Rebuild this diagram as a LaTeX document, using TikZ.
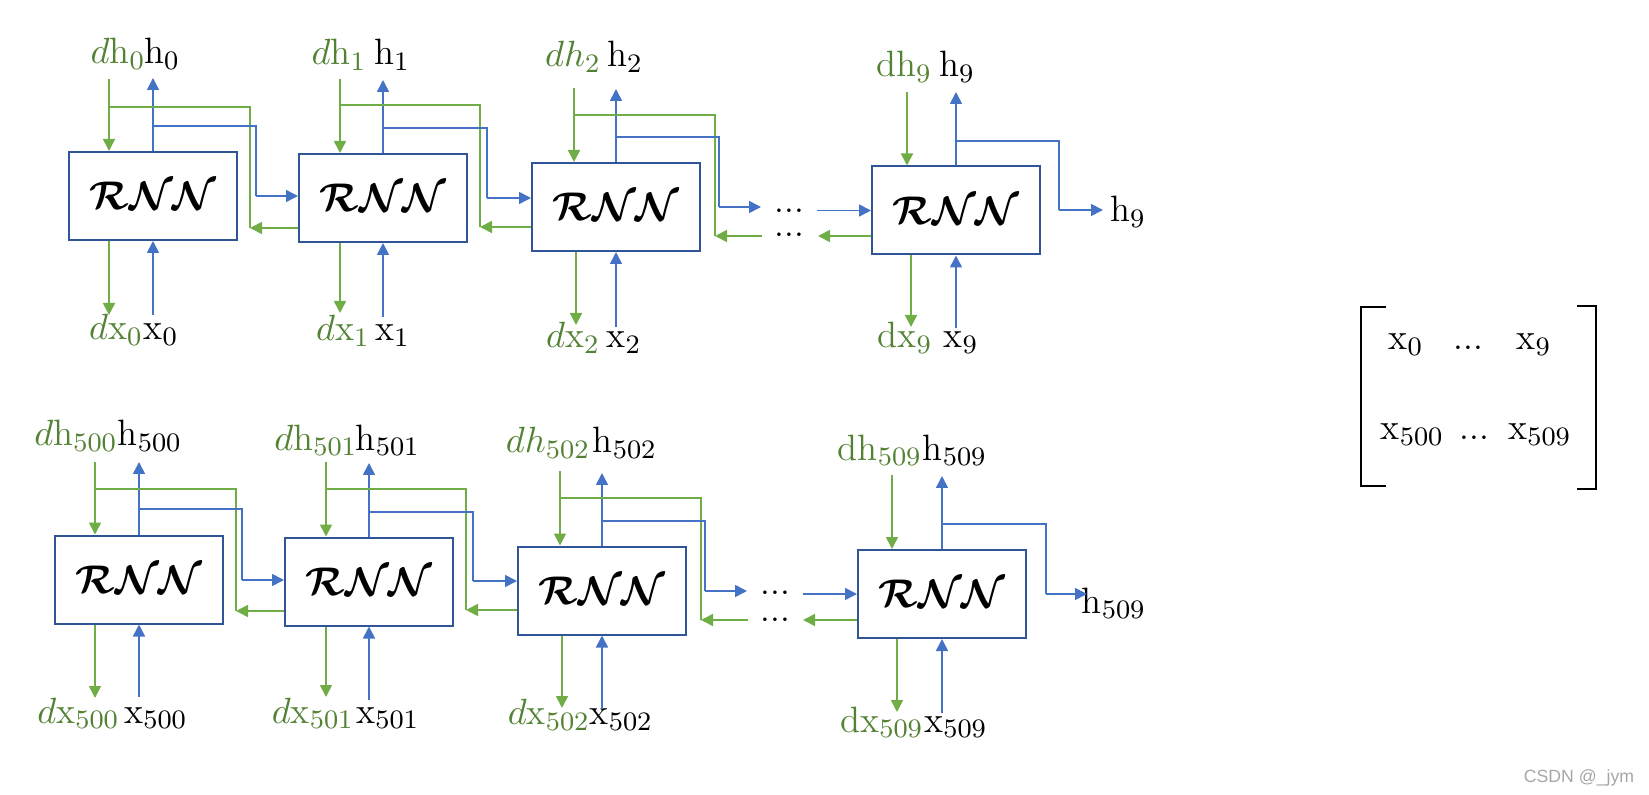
\documentclass[tikz,border=0pt]{standalone}
\usepackage{fontspec}
\usepackage{bm}
\usetikzlibrary{arrows.meta}
\newfontfamily\wmfont{Liberation Sans}
\definecolor{cgreen}{HTML}{70AD47}
\definecolor{cblue}{HTML}{4472C4}
\definecolor{cbox}{HTML}{2F5597}
\definecolor{tgreen}{HTML}{548235}
\definecolor{wmgray}{HTML}{A6A6A6}
\newcommand{\rnnlabel}{$\bm{\mathcal{RNN}}$}
\newcommand{\tdots}{.\kern0.2pt.\kern0.2pt.}
\begin{document}
\begin{tikzpicture}[x=0.3pt,y=-0.3pt,
  rnn/.style={draw=cbox,line width=0.6pt,fill=white,minimum width=50.4pt,minimum height=26.4pt,inner sep=0pt,font=\fontsize{12.2}{14}\selectfont},
  gl/.style={cgreen,line width=0.5pt},
  bl/.style={cblue,line width=0.5pt},
  tip/.style={-{Triangle[length=3.6pt,width=3.6pt]}},
  glab/.style={text=tgreen,anchor=base,inner sep=0pt,font=\fontsize{11}{13}\selectfont},
  blab/.style={text=black,anchor=base,inner sep=0pt,font=\fontsize{11}{13}\selectfont},
  dotsn/.style={text=black,anchor=base,inner sep=0pt,font=\fontsize{10}{12}\selectfont},
  brk/.style={black,line width=0.6pt}
]
\useasboundingbox (0,0) rectangle (1649,795);

% ---------------- boxes
\node[rnn] (b1) at (153,196) {\rnnlabel};
\node[rnn] (b2) at (383,198) {\rnnlabel};
\node[rnn] (b3) at (616,207) {\rnnlabel};
\node[rnn] (b4) at (956,210.5) {\rnnlabel};
\node[rnn] (b5) at (139,579.5) {\rnnlabel};
\node[rnn] (b6) at (369,581.5) {\rnnlabel};
\node[rnn] (b7) at (602,590.5) {\rnnlabel};
\node[rnn] (b8) at (942,594) {\rnnlabel};

% ---------------- labels row 1
\node[glab] (ldh0) at (118,64) {$d\mathrm{h}_{0}$};
\node[blab] (lh0) at (162,64) {$\mathrm{h}_{0}$};
\node[glab] (ldh1) at (339,65) {$d\mathrm{h}_{1}$};
\node[blab] (lh1) at (392,65) {$\mathrm{h}_{1}$};
\node[glab] (ldh2) at (573,67) {$dh_{2}$};
\node[blab] (lh2) at (625,67) {$\mathrm{h}_{2}$};
\node[glab] (ldh9) at (904,77) {$\mathrm{dh}_{9}$};
\node[blab] (lh9) at (957,77) {$\mathrm{h}_{9}$};
\node[glab] (ldx0) at (116,340) {$d\mathrm{x}_{0}$};
\node[blab] (lx0) at (161,340) {$\mathrm{x}_{0}$};
\node[glab] (ldx1) at (343,341) {$d\mathrm{x}_{1}$};
\node[blab] (lx1) at (392.5,341) {$\mathrm{x}_{1}$};
\node[glab] (ldx2) at (573,348) {$d\mathrm{x}_{2}$};
\node[blab] (lx2) at (624,348) {$\mathrm{x}_{2}$};
\node[glab] (ldx9) at (905,348) {$\mathrm{dx}_{9}$};
\node[blab] (lx9) at (961,348) {$\mathrm{x}_{9}$};
\node[blab] (lh9r) at (1128,222) {$\mathrm{h}_{9}$};

% ---------------- labels row 2
\node[glab] (ldh500) at (76,446) {$d\mathrm{h}_{500}$};
\node[blab] (lh500) at (150,446) {$\mathrm{h}_{500}$};
\node[glab] (ldh501) at (316,450) {$d\mathrm{h}_{501}$};
\node[blab] (lh501) at (388,450) {$\mathrm{h}_{501}$};
\node[glab] (ldh502) at (548,453) {$dh_{502}$};
\node[blab] (lh502) at (625,453) {$\mathrm{h}_{502}$};
\node[glab] (ldh509) at (880,460) {$\mathrm{dh}_{509}$};
\node[blab] (lh509) at (955,460) {$\mathrm{h}_{509}$};
\node[glab] (ldx500) at (78.5,723) {$d\mathrm{x}_{500}$};
\node[blab] (lx500) at (156,723) {$\mathrm{x}_{500}$};
\node[glab] (ldx501) at (313,723) {$d\mathrm{x}_{501}$};
\node[blab] (lx501) at (388,723) {$\mathrm{x}_{501}$};
\node[glab] (ldx502) at (549,725) {$d\mathrm{x}_{502}$};
\node[blab] (lx502) at (621.5,725) {$\mathrm{x}_{502}$};
\node[glab] (ldx509) at (882,732) {$\mathrm{dx}_{509}$};
\node[blab] (lx509) at (956,732) {$\mathrm{x}_{509}$};
\node[blab] (lh509r) at (1114,613) {$\mathrm{h}_{509}$};

% ---------------- dots
\node[dotsn] (dt1) at (789,212.5) {\tdots};
\node[dotsn] (dt2) at (789,237) {\tdots};
\node[dotsn] (dt3) at (775,594.5) {\tdots};
\node[dotsn] (dt4) at (775,621.5) {\tdots};

% ---------------- vertical in/out arrows, row 1
\coordinate (g1t) at (109,79);  \coordinate (h1t) at (153,78);
\coordinate (g1b) at (109,315); \coordinate (x1b) at (153,315);
\coordinate (g2t) at (340,79);  \coordinate (h2t) at (383,80);
\coordinate (g2b) at (340,313); \coordinate (x2b) at (383,317);
\coordinate (g3t) at (574,88);  \coordinate (h3t) at (616,89);
\coordinate (g3b) at (576,325); \coordinate (x3b) at (616,327);
\coordinate (g4t) at (907,92);  \coordinate (h4t) at (956,92);
\coordinate (g4b) at (911,327); \coordinate (x4b) at (956,328);
% row 2
\coordinate (g5t) at (95,462);  \coordinate (h5t) at (139,462);
\coordinate (g5b) at (95,698);  \coordinate (x5b) at (139,697);
\coordinate (g6t) at (326,462); \coordinate (h6t) at (369,463);
\coordinate (g6b) at (326,697); \coordinate (x6b) at (369,700);
\coordinate (g7t) at (560,471); \coordinate (h7t) at (602,473);
\coordinate (g7b) at (562,708); \coordinate (x7b) at (602,709);
\coordinate (g8t) at (892,475); \coordinate (h8t) at (942,476);
\coordinate (g8b) at (897,712); \coordinate (x8b) at (942,713);

\foreach \i in {1,...,8}{
  \draw[gl,tip] (g\i t) -- (g\i t |- b\i.north);
  \draw[bl,tip] (h\i t |- b\i.north) -- (h\i t);
  \draw[gl,tip] (g\i b |- b\i.south) -- (g\i b);
  \draw[bl,tip] (x\i b) -- (x\i b |- b\i.south);
}

% ---------------- links row 1
\coordinate (j12g) at (250,228); \coordinate (j12b) at (256,196);
\draw[gl] (109,107) -| (j12g);
\draw[gl,tip] (b2.west |- j12g) -- (j12g);
\draw[bl] (153,126) -| (j12b);
\draw[bl,tip] (j12b) -- (b2.west |- j12b);

\coordinate (j23g) at (480,227); \coordinate (j23b) at (487,198);
\draw[gl] (340,105) -| (j23g);
\draw[gl,tip] (b3.west |- j23g) -- (j23g);
\draw[bl] (383,128) -| (j23b);
\draw[bl,tip] (j23b) -- (b3.west |- j23b);

\coordinate (j3g) at (715,236); \coordinate (j3b) at (719,207);
\coordinate (e3b) at (761,207); \coordinate (s3g) at (762,236);
\coordinate (s4b) at (817,210.5); \coordinate (e4g) at (818,236);
\draw[gl] (574,115) -| (j3g);
\draw[gl,tip] (s3g) -- (j3g);
\draw[bl] (616,137) -| (j3b);
\draw[bl,tip] (j3b) -- (e3b);
\draw[bl,tip] (s4b) -- (s4b -| b4.west);
\draw[gl,tip] (b4.west |- e4g) -- (e4g);

\coordinate (j4b) at (1059,210); \coordinate (e4b) at (1103,210);
\draw[bl] (956,141) -| (j4b);
\draw[bl,tip] (j4b) -- (e4b);

% ---------------- links row 2
\coordinate (j56g) at (236,611); \coordinate (j56b) at (242,580);
\draw[gl] (95,489) -| (j56g);
\draw[gl,tip] (b6.west |- j56g) -- (j56g);
\draw[bl] (139,509) -| (j56b);
\draw[bl,tip] (j56b) -- (b6.west |- j56b);

\coordinate (j67g) at (466,610); \coordinate (j67b) at (473,581);
\draw[gl] (326,489) -| (j67g);
\draw[gl,tip] (b7.west |- j67g) -- (j67g);
\draw[bl] (369,512) -| (j67b);
\draw[bl,tip] (j67b) -- (b7.west |- j67b);

\coordinate (j7g) at (701,620); \coordinate (j7b) at (705,591);
\coordinate (e7b) at (747,591); \coordinate (s7g) at (748,620);
\coordinate (s8b) at (803,594); \coordinate (e8g) at (803,620);
\draw[gl] (560,498) -| (j7g);
\draw[gl,tip] (s7g) -- (j7g);
\draw[bl] (602,521) -| (j7b);
\draw[bl,tip] (j7b) -- (e7b);
\draw[bl,tip] (s8b) -- (s8b -| b8.west);
\draw[gl,tip] (b8.west |- e8g) -- (e8g);

\coordinate (j8b) at (1046,594); \coordinate (e8b) at (1087,594);
\draw[bl] (942,524) -| (j8b);
\draw[bl,tip] (j8b) -- (e8b);

% ---------------- matrix
\draw[brk] (1386,307) -- (1361,307) -- (1361,486) -- (1386,486);
\draw[brk] (1577,306) -- (1596,306) -- (1596,489) -- (1577,489);
\node[blab] (m00) at (1406,350) {$\mathrm{x}_{0}$};
\node[dotsn] (m01) at (1468,350) {\tdots};
\node[blab] (m02) at (1534,350) {$\mathrm{x}_{9}$};
\node[blab] (m10) at (1412.5,440) {$\mathrm{x}_{500}$};
\node[dotsn] (m11) at (1474,440) {\tdots};
\node[blab] (m12) at (1540,440) {$\mathrm{x}_{509}$};

% ---------------- watermark
\node[anchor=base,inner sep=0pt,text=wmgray,font=\wmfont\fontsize{5.3}{6}\selectfont] (wm) at (1579,782) {CSDN @\_jym};
\end{tikzpicture}
\end{document}
